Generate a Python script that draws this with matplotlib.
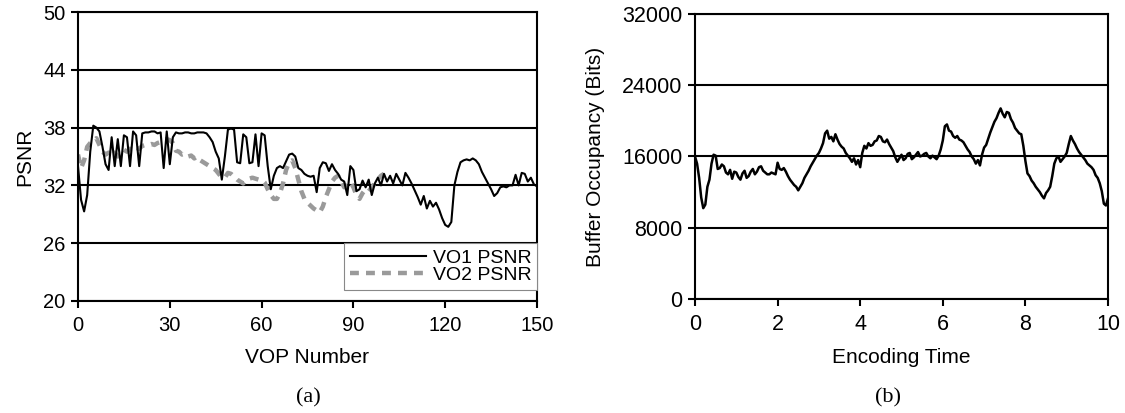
import matplotlib
matplotlib.use("Agg")
import matplotlib.pyplot as plt

plt.rcParams['font.family'] = ['Liberation Sans', 'DejaVu Sans']

# ---- data (a) ----
vop1 = list(range(0, 151))
vo1_psnr = [34.0, 30.5, 29.3, 31.0, 35.5, 38.2, 38.0, 37.6, 36.0, 34.2,
            33.6, 37.0, 34.0, 36.8, 34.0, 37.2, 37.0, 34.0, 37.6, 37.2,
            34.0, 37.4, 37.5, 37.5, 37.6, 37.6, 37.4, 37.5, 33.8, 37.6,
            34.2, 37.0, 37.5, 37.4, 37.4, 37.5, 37.5, 37.4, 37.4, 37.5,
            37.5, 37.5, 37.4, 37.0, 36.5, 35.5, 34.8, 32.6, 35.0, 37.8,
            37.9, 37.8, 34.4, 34.3, 37.3, 37.0, 34.3, 34.4, 37.3, 34.0,
            37.4, 37.2, 34.0, 31.6, 33.0, 33.8, 34.0, 33.8, 34.5, 35.2,
            35.3, 35.0, 33.8, 33.6, 33.2, 33.0, 32.9, 33.0, 31.3, 33.8,
            34.4, 34.3, 33.5, 34.2, 33.6, 33.2, 32.6, 32.4, 31.0, 34.0,
            33.6, 31.4, 31.6, 32.5, 31.8, 32.6, 31.0, 32.2, 32.8, 32.0,
            33.2, 32.4, 33.0, 32.2, 33.2, 32.6, 32.0, 33.3, 32.8, 32.2,
            31.5, 30.8, 30.0, 30.9, 29.6, 30.4, 29.8, 30.2, 29.5, 28.6,
            27.9, 27.7, 28.2, 32.0, 33.4, 34.4, 34.6, 34.7, 34.6, 34.8,
            34.6, 34.2, 33.4, 32.8, 32.2, 31.6, 30.9, 31.2, 31.8, 31.9,
            31.8, 32.0, 32.0, 33.1, 32.0, 33.3, 33.2, 32.4, 32.8, 32.1,
            31.9]
vop2 = list(range(0, 101))
vo2_psnr = [35.2, 33.8, 34.6, 36.0, 36.4, 36.6, 36.9, 36.2, 35.5, 35.2,
            35.4, 35.0, 35.4, 35.0, 35.6, 35.7, 35.5, 35.8, 35.6, 35.9,
            35.8, 36.1, 36.2, 36.2, 36.3, 36.2, 36.4, 36.5, 36.7, 36.8,
            36.7, 36.4, 35.6, 35.5, 35.2, 35.3, 35.0, 35.1, 34.8, 35.0,
            34.6, 34.4, 34.2, 34.0, 33.8, 33.6, 33.2, 32.8, 32.8, 33.3,
            33.2, 32.9, 32.6, 32.4, 32.2, 32.6, 32.7, 32.8, 32.7, 32.6,
            32.6, 32.3, 31.6, 31.0, 30.6, 30.6, 31.2, 32.2, 33.6, 34.4,
            34.6, 33.8, 32.6, 31.4, 30.6, 30.2, 29.9, 29.6, 29.4, 29.2,
            29.8, 30.8, 31.6, 32.4, 32.8, 33.0, 32.4, 31.8, 32.2, 32.4,
            31.8, 31.0, 30.6, 31.2, 31.6, 31.4, 31.8, 32.2, 32.6, 33.0,
            33.2]
xticks_a = [0, 30, 60, 90, 120, 150]
yticks_a = [20, 26, 32, 38, 44, 50]

# ---- data (b) ----
enc_time = [round(0.05 * i, 2) for i in range(201)]
buffer_bits = [
    16000, 15200, 13600, 11400, 10200, 10600, 12600, 13400, 15200, 16200,
    16100, 14600, 14700, 15100, 14900, 14200, 14000, 14500, 13500, 14300,
    14200, 13700, 13400, 14100, 14400, 13600, 13800, 14300, 14600, 14000,
    14300, 14800, 14900, 14400, 14200, 14000, 14000, 14200, 14100, 14000,
    15300, 14600, 14500, 14700, 14300, 13800, 13400, 13100, 12800, 12600,
    12200, 12600, 13000, 13600, 14000, 14400, 14900, 15300, 15700, 16100,
    16400, 16900, 17500, 18600, 18900, 18000, 18200, 17700, 18500, 17900,
    17400, 17100, 16900, 16400, 16100, 15800, 15400, 15800, 15100, 15600,
    14800, 16400, 17200, 16900, 17500, 17200, 17300, 17700, 17800, 18300,
    18200, 17700, 17600, 17900, 17400, 17000, 16600, 15900, 15400, 15800,
    16200, 15600, 15800, 16300, 16400, 15700, 15900, 16200, 16500, 16000,
    16100, 16300, 16400, 16000, 15800, 16100, 15900, 15700, 16100, 16800,
    17800, 19400, 19600, 18900, 18800, 18300, 18100, 18300, 17900, 17800,
    17600, 17200, 16800, 16500, 16000, 15700, 15200, 15600, 15000, 16200,
    17000, 17300, 18000, 18700, 19300, 19900, 20300, 20900, 21400, 20800,
    20400, 21000, 20900, 20200, 19800, 19200, 18900, 18600, 18500, 17200,
    15500, 14100, 13800, 13300, 13000, 12600, 12300, 12000, 11600, 11300,
    11900, 12200, 12600, 13800, 15200, 15800, 16000, 15400, 15700, 16000,
    16400, 17400, 18300, 17800, 17400, 16900, 16500, 16200, 15900, 15600,
    15200, 15000, 14800, 14500, 13900, 13600, 13000, 12100, 10700, 10500,
    11300]
xticks_b = [0, 2, 4, 6, 8, 10]
yticks_b = [0, 8000, 16000, 24000, 32000]

W, H = 1125, 413
fig = plt.figure(figsize=(W / 100, H / 100), dpi=100)

def style(ax, xt, yt, ts):
    ax.set_xticks(xt)
    ax.set_yticks(yt)
    ax.set_xlim(xt[0], xt[-1])
    ax.set_ylim(yt[0], yt[-1])
    for s in ax.spines.values():
        s.set_linewidth(1.5)
        s.set_color('black')
    ax.tick_params(axis='both', direction='out', length=5, width=1.5,
                   labelsize=ts, colors='black', pad=4)
    ax.tick_params(axis='x', pad=6)
    ax.yaxis.grid(True, color='black', linewidth=1.5)
    ax.set_axisbelow(True)

ax1 = fig.add_axes([78 / W, 1 - 301 / H, (537 - 78) / W, (301 - 12) / H])
style(ax1, xticks_a, yticks_a, 14.5)
ax1.plot(vop1, vo1_psnr, color='black', lw=1.5, label='VO1 PSNR', zorder=3)
ax1.plot(vop2, vo2_psnr, color='#9a9a9a', lw=3.2, linestyle=(0, (2, 1.6)),
         label='VO2 PSNR', zorder=2)
ax1.set_xlabel('VOP Number', fontsize=15, labelpad=9)
ax1.set_ylabel('PSNR', fontsize=15, labelpad=6)
leg = ax1.legend(loc='upper right', bbox_to_anchor=(1.0, 0.2), borderaxespad=0,
                 fontsize=14, frameon=True, fancybox=False, handlelength=3.9,
                 handletextpad=0.35, labelspacing=0.0, borderpad=0.3)
leg.get_frame().set_edgecolor('#888888')
leg.get_frame().set_linewidth(0.8)
leg.get_frame().set_alpha(1)
leg.set_zorder(5)

ax2 = fig.add_axes([695 / W, 1 - 299 / H, (1108 - 695) / W, (299 - 14) / H])
style(ax2, xticks_b, yticks_b, 15.5)
ax2.plot(enc_time, buffer_bits, color='black', lw=1.8, zorder=3)
ax2.set_xlabel('Encoding Time', fontsize=15, labelpad=9)
ax2.set_ylabel('Buffer Occupancy (Bits)', fontsize=15, labelpad=12)

fig.text(308 / W, 1 - 398 / H, '(a)', ha='center', va='center', fontsize=16,
         family=['Liberation Serif', 'DejaVu Serif'])
fig.text(888 / W, 1 - 398 / H, '(b)', ha='center', va='center', fontsize=16,
         family=['Liberation Serif', 'DejaVu Serif'])

fig.savefig('out.png', dpi=100)
